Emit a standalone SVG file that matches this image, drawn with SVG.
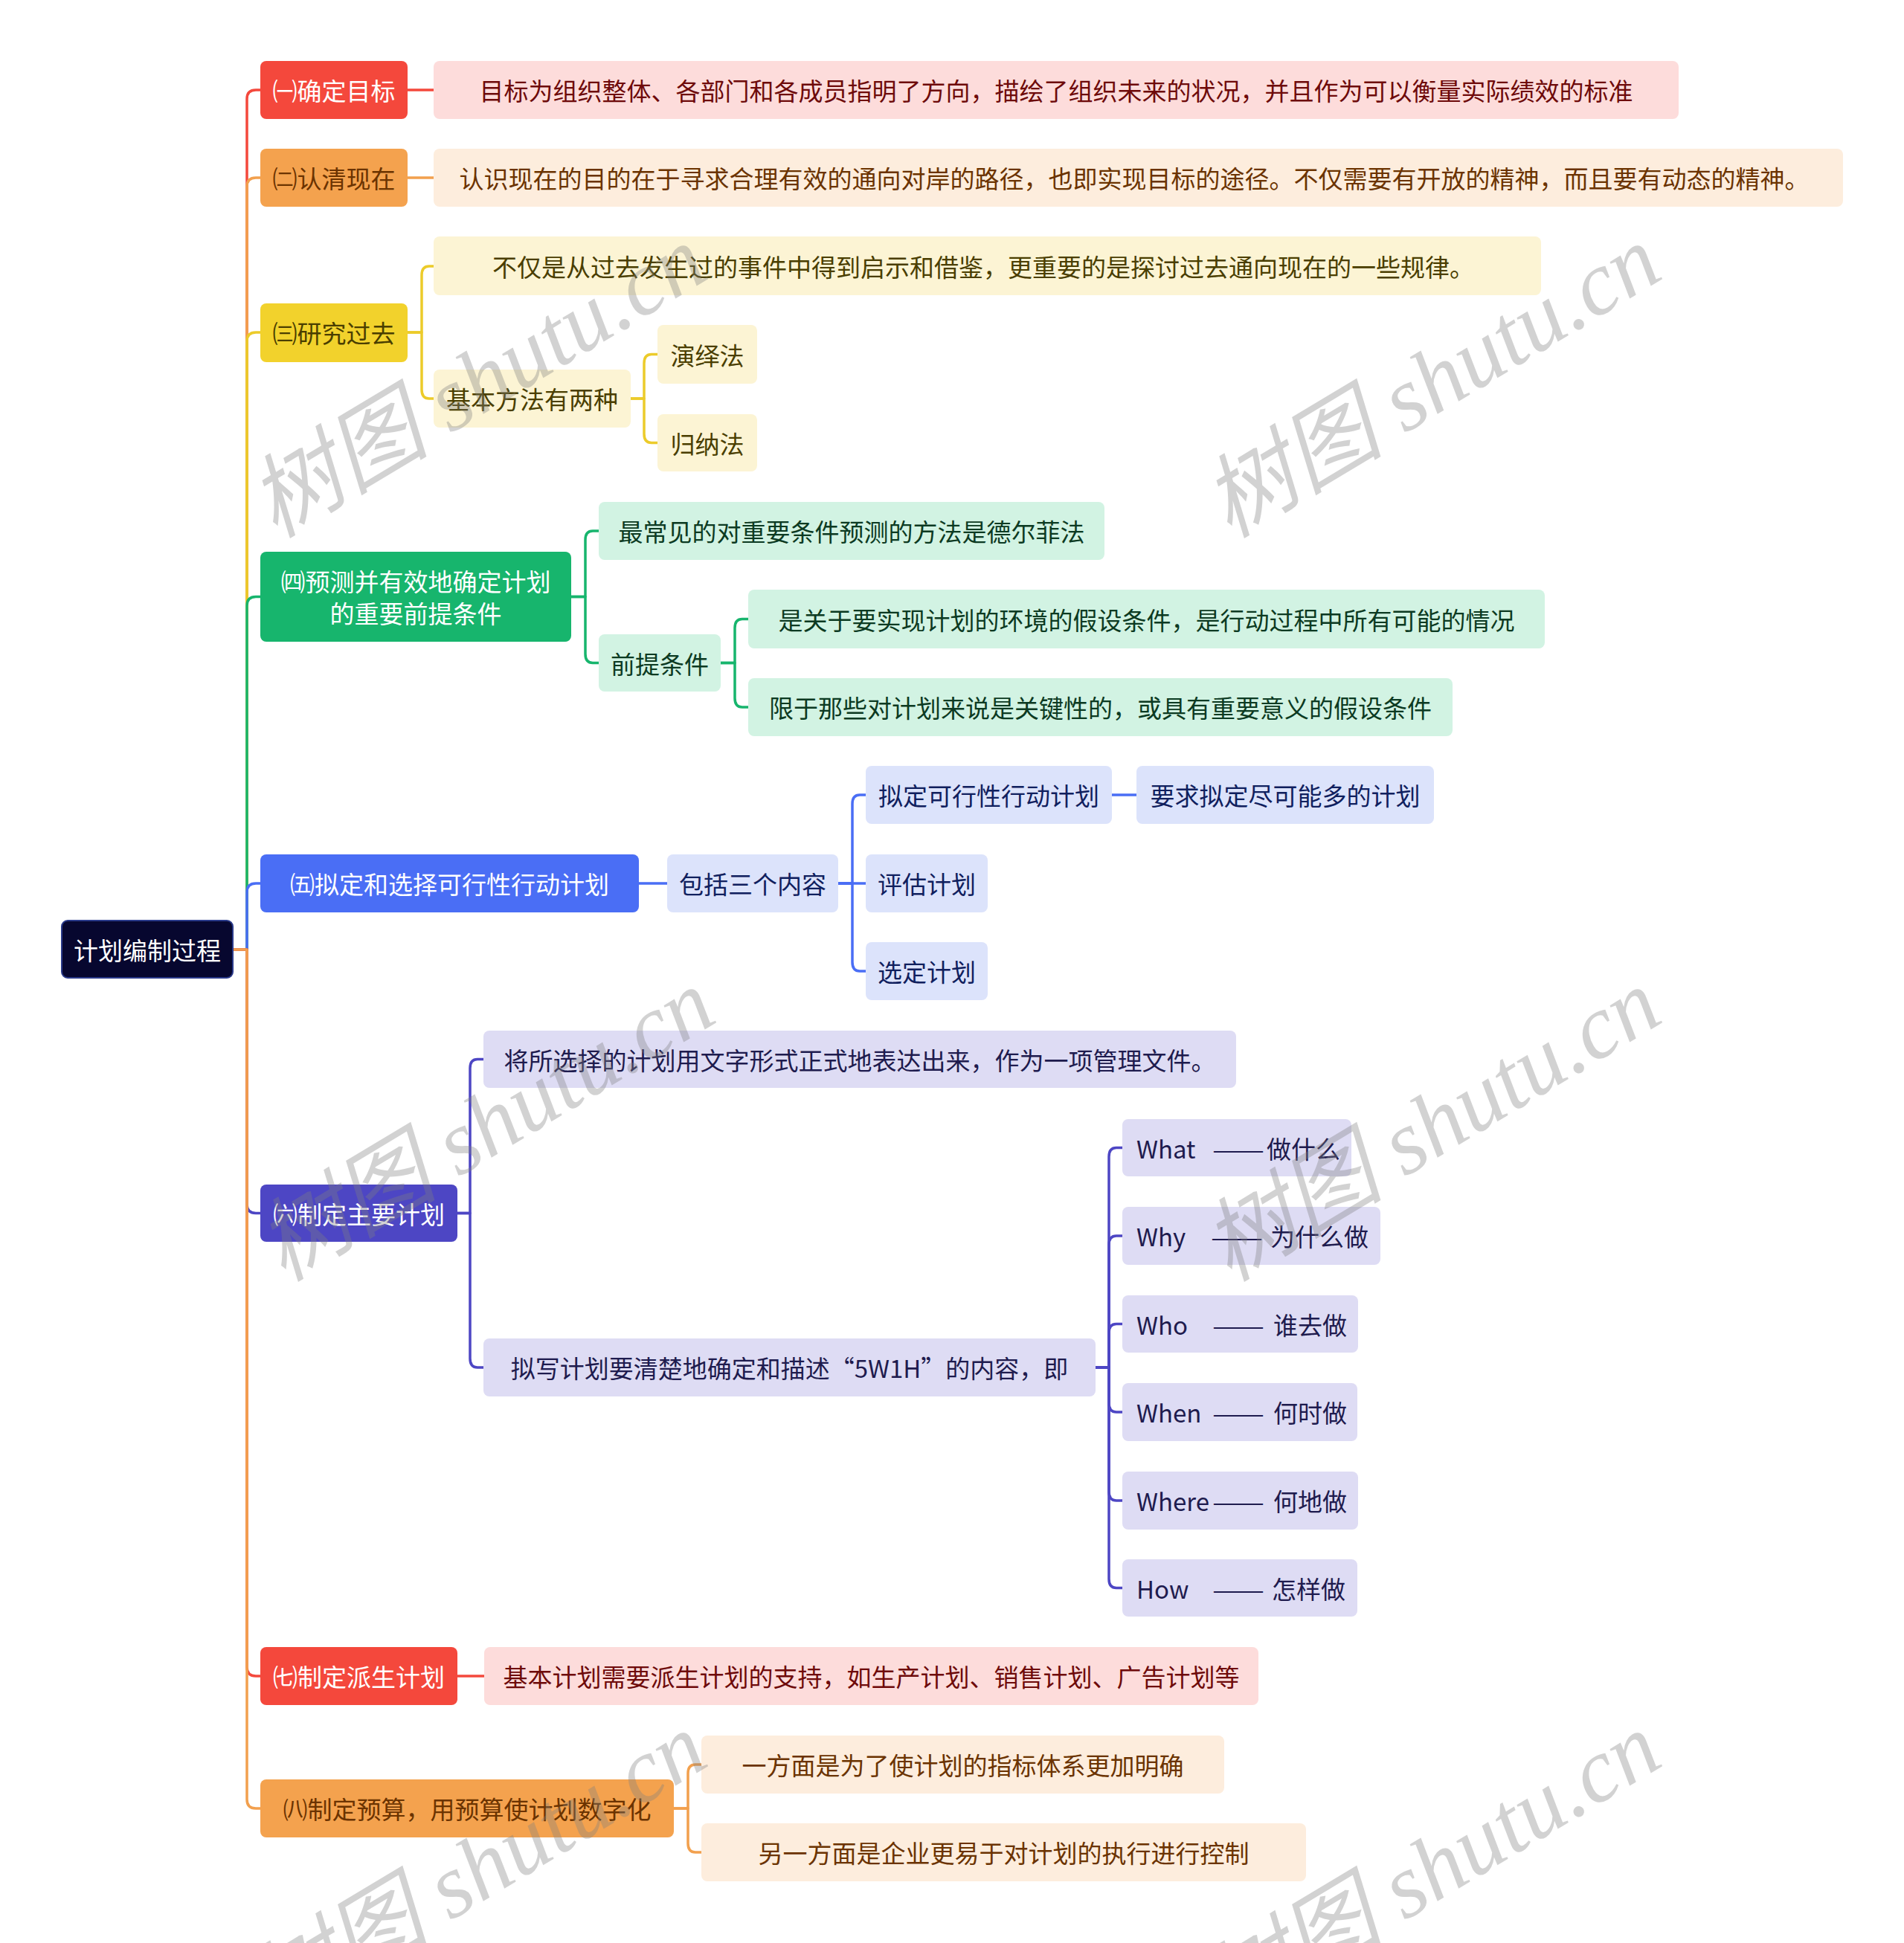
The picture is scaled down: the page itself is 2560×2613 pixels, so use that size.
<svg xmlns="http://www.w3.org/2000/svg" width="2560" height="2613" viewBox="0 0 2560 2613">
<style>
text{font-family:"Noto Sans CJK SC","Noto Sans",sans-serif;font-size:33px;dominant-baseline:central;text-anchor:middle}
.l{text-anchor:start}
.c{fill:none;stroke-width:3.5;stroke-linecap:round;stroke-linejoin:round}
.cr{stroke:#f4483c}.co{stroke:#f2a04e}.cy{stroke:#eccb2a}.cg{stroke:#17b56d}.cb{stroke:#4a6ef5}.cp{stroke:#4d46c4}
.root{fill:#07072f;stroke:#2a3a8a;stroke-width:2}
.R{fill:#f4483c}.O{fill:#f4a24e}.Y{fill:#f2d22c}.G{fill:#17b56d}.B{fill:#4a6ef5}.P{fill:#4d46c4}
.r{fill:#fddcdb}.o{fill:#fdeddd}.y{fill:#fcf4d4}.g{fill:#d2f3e3}.b{fill:#dce3fb}.p{fill:#dedcf4}
.tw{fill:#ffffff}.tR{fill:#6e0a0a}.tO{fill:#6b3300}.tY{fill:#4a3e00}.tG{fill:#0c3a22}.tB{fill:#10205e}.tP{fill:#1e1b4e}
.wm{font-family:"Liberation Serif","Noto Sans CJK SC",serif;font-style:italic;font-size:122px;fill:#808080;opacity:0.35;text-anchor:middle}
</style>

<g id="connectors">
<path class="c cr" d="M313 1277 H332 V133 Q332 121 344 121 H350"/>
<path class="c co" d="M313 1277 H332 V251 Q332 239 344 239 H350"/>
<path class="c cy" d="M313 1277 H332 V459 Q332 447 344 447 H350"/>
<path class="c cg" d="M313 1277 H332 V814.5 Q332 802.5 344 802.5 H350"/>
<path class="c cb" d="M313 1277 H332 V1200 Q332 1188 344 1188 H350"/>
<path class="c cp" d="M313 1277 H332 V1619.5 Q332 1631.5 344 1631.5 H350"/>
<path class="c cr" d="M313 1277 H332 V2242 Q332 2254 344 2254 H350"/>
<path class="c co" d="M313 1277 H332 V2420 Q332 2432 344 2432 H350"/>

<path class="c cr" d="M548 121 H583"/>
<path class="c co" d="M548 239 H583"/>

<path class="c cy" d="M548 447 H567 V370 Q567 358 577 358 H583"/>
<path class="c cy" d="M548 447 H567 V524 Q567 536 577 536 H583"/>
<path class="c cy" d="M848 536 H866 V488.5 Q866 476.5 876 476.5 H884"/>
<path class="c cy" d="M848 536 H866 V583.5 Q866 595.5 876 595.5 H884"/>

<path class="c cg" d="M768 802.5 H787 V726 Q787 714 797 714 H805"/>
<path class="c cg" d="M768 802.5 H787 V879.5 Q787 891.5 797 891.5 H805"/>
<path class="c cg" d="M969 891.5 H988 V844.5 Q988 832.5 998 832.5 H1006"/>
<path class="c cg" d="M969 891.5 H988 V939 Q988 951 998 951 H1006"/>

<path class="c cb" d="M859 1188 H897"/>
<path class="c cb" d="M1127 1188 H1146 V1081 Q1146 1069 1156 1069 H1164"/>
<path class="c cb" d="M1127 1188 H1164"/>
<path class="c cb" d="M1127 1188 H1146 V1294 Q1146 1306 1156 1306 H1164"/>
<path class="c cb" d="M1495 1069 H1528"/>

<path class="c cp" d="M615 1631.5 H632 V1436.5 Q632 1424.5 642 1424.5 H650"/>
<path class="c cp" d="M615 1631.5 H632 V1827 Q632 1839 642 1839 H650"/>
<path class="c cp" d="M1473 1839 H1491 V1555.5 Q1491 1543.5 1501 1543.5 H1509"/>
<path class="c cp" d="M1473 1839 H1491 V1674 Q1491 1662 1501 1662 H1509"/>
<path class="c cp" d="M1473 1839 H1491 V1792.5 Q1491 1780.5 1501 1780.5 H1509"/>
<path class="c cp" d="M1473 1839 H1491 V1887 Q1491 1899 1501 1899 H1509"/>
<path class="c cp" d="M1473 1839 H1491 V2006 Q1491 2018 1501 2018 H1509"/>
<path class="c cp" d="M1473 1839 H1491 V2123.5 Q1491 2135.5 1501 2135.5 H1509"/>

<path class="c cr" d="M615 2254 H651"/>
<path class="c co" d="M906 2432 H925 V2385 Q925 2373 935 2373 H943"/>
<path class="c co" d="M906 2432 H925 V2479 Q925 2491 935 2491 H943"/>
</g>

<g id="root"><rect class="root" x="83" y="1238" width="230" height="77" rx="8"/><text class="tw" x="198" y="1277">计划编制过程</text></g>

<g id="n1"><rect class="R" x="350" y="82" width="198" height="78" rx="8"/><text class="tw" x="449" y="121">㈠确定目标</text></g>
<g id="n1-1"><rect class="r" x="583" y="82" width="1674" height="78" rx="8"/><text class="tR" x="1420" y="121">目标为组织整体、各部门和各成员指明了方向，描绘了组织未来的状况，并且作为可以衡量实际绩效的标准</text></g>

<g id="n2"><rect class="O" x="350" y="200" width="198" height="78" rx="8"/><text class="tO" x="449" y="239">㈡认清现在</text></g>
<g id="n2-1"><rect class="o" x="583" y="200" width="1895" height="78" rx="8"/><text class="tO" x="1525" y="239">认识现在的目的在于寻求合理有效的通向对岸的路径，也即实现目标的途径。不仅需要有开放的精神，而且要有动态的精神。</text></g>

<g id="n3"><rect class="Y" x="350" y="408" width="198" height="79" rx="8"/><text class="tY" x="449" y="447">㈢研究过去</text></g>
<g id="n3-1"><rect class="y" x="583" y="318" width="1489" height="79" rx="8"/><text class="tY" x="1322" y="357.5">不仅是从过去发生过的事件中得到启示和借鉴，更重要的是探讨过去通向现在的一些规律。</text></g>
<g id="n3-2"><rect class="y" x="583" y="497" width="265" height="78" rx="8"/><text class="tY" x="715.5" y="536">基本方法有两种</text></g>
<g id="n3-2-1"><rect class="y" x="884" y="437" width="134" height="79" rx="8"/><text class="tY" x="951" y="476.5">演绎法</text></g>
<g id="n3-2-2"><rect class="y" x="884" y="557" width="134" height="77" rx="8"/><text class="tY" x="951" y="595.5">归纳法</text></g>

<g id="n4"><rect class="G" x="350" y="742" width="418" height="121" rx="8"/><text class="tw" x="559" y="781">㈣预测并有效地确定计划</text><text class="tw" x="559" y="824">的重要前提条件</text></g>
<g id="n4-1"><rect class="g" x="805" y="675" width="680" height="78" rx="8"/><text class="tG" x="1145" y="714">最常见的对重要条件预测的方法是德尔菲法</text></g>
<g id="n4-2"><rect class="g" x="805" y="853" width="164" height="77" rx="8"/><text class="tG" x="887" y="891.5">前提条件</text></g>
<g id="n4-2-1"><rect class="g" x="1006" y="793" width="1071" height="79" rx="8"/><text class="tG" x="1541.5" y="832.5">是关于要实现计划的环境的假设条件，是行动过程中所有可能的情况</text></g>
<g id="n4-2-2"><rect class="g" x="1006" y="912" width="947" height="78" rx="8"/><text class="tG" x="1479.5" y="951">限于那些对计划来说是关键性的，或具有重要意义的假设条件</text></g>

<g id="n5"><rect class="B" x="350" y="1149" width="509" height="78" rx="8"/><text class="tw" x="604.5" y="1188">㈤拟定和选择可行性行动计划</text></g>
<g id="n5-1"><rect class="b" x="897" y="1149" width="230" height="78" rx="8"/><text class="tB" x="1012" y="1188">包括三个内容</text></g>
<g id="n5-1-1"><rect class="b" x="1164" y="1030" width="331" height="78" rx="8"/><text class="tB" x="1329.5" y="1069">拟定可行性行动计划</text></g>
<g id="n5-1-1-1"><rect class="b" x="1528" y="1030" width="400" height="78" rx="8"/><text class="tB" x="1728" y="1069">要求拟定尽可能多的计划</text></g>
<g id="n5-1-2"><rect class="b" x="1164" y="1149" width="164" height="78" rx="8"/><text class="tB" x="1246" y="1188">评估计划</text></g>
<g id="n5-1-3"><rect class="b" x="1164" y="1267" width="164" height="78" rx="8"/><text class="tB" x="1246" y="1306">选定计划</text></g>

<g id="n6"><rect class="P" x="350" y="1593" width="265" height="77" rx="8"/><text class="tw" x="482.5" y="1631.5">㈥制定主要计划</text></g>
<g id="n6-1"><rect class="p" x="650" y="1386" width="1012" height="77" rx="8"/><text class="tP" x="1156" y="1424.5">将所选择的计划用文字形式正式地表达出来，作为一项管理文件。</text></g>
<g id="n6-2"><rect class="p" x="650" y="1800" width="823" height="78" rx="8"/><text class="tP" x="1061.5" y="1839">拟写计划要清楚地确定和描述“5W1H”的内容，即</text></g>
<g id="n6-2-1"><rect class="p" x="1509" y="1505" width="308" height="77" rx="8"/><text class="tP l" x="1528" y="1543.5">What<tspan x="1630" textLength="70" lengthAdjust="spacingAndGlyphs">——</tspan><tspan x="1703">做什么</tspan></text></g>
<g id="n6-2-2"><rect class="p" x="1509" y="1623" width="347" height="78" rx="8"/><text class="tP l" x="1528" y="1662">Why<tspan x="1628" textLength="70" lengthAdjust="spacingAndGlyphs">——</tspan><tspan x="1708">为什么做</tspan></text></g>
<g id="n6-2-3"><rect class="p" x="1509" y="1742" width="317" height="77" rx="8"/><text class="tP l" x="1528" y="1780.5">Who<tspan x="1630" textLength="70" lengthAdjust="spacingAndGlyphs">——</tspan><tspan x="1712">谁去做</tspan></text></g>
<g id="n6-2-4"><rect class="p" x="1509" y="1860" width="316" height="78" rx="8"/><text class="tP l" x="1528" y="1899">When<tspan x="1630" textLength="70" lengthAdjust="spacingAndGlyphs">——</tspan><tspan x="1712">何时做</tspan></text></g>
<g id="n6-2-5"><rect class="p" x="1509" y="1979" width="317" height="78" rx="8"/><text class="tP l" x="1528" y="2018">Where<tspan x="1630" textLength="70" lengthAdjust="spacingAndGlyphs">——</tspan><tspan x="1712">何地做</tspan></text></g>
<g id="n6-2-6"><rect class="p" x="1509" y="2097" width="316" height="77" rx="8"/><text class="tP l" x="1528" y="2135.5">How<tspan x="1630" textLength="70" lengthAdjust="spacingAndGlyphs">——</tspan><tspan x="1710">怎样做</tspan></text></g>

<g id="n7"><rect class="R" x="350" y="2215" width="265" height="78" rx="8"/><text class="tw" x="482.5" y="2254">㈦制定派生计划</text></g>
<g id="n7-1"><rect class="r" x="651" y="2215" width="1041" height="78" rx="8"/><text class="tR" x="1171.5" y="2254">基本计划需要派生计划的支持，如生产计划、销售计划、广告计划等</text></g>

<g id="n8"><rect class="O" x="350" y="2393" width="556" height="78" rx="8"/><text class="tO" x="628" y="2432">㈧制定预算，用预算使计划数字化</text></g>
<g id="n8-1"><rect class="o" x="943" y="2334" width="703" height="78" rx="8"/><text class="tO" x="1294.5" y="2373">一方面是为了使计划的指标体系更加明确</text></g>
<g id="n8-2"><rect class="o" x="943" y="2452" width="813" height="78" rx="8"/><text class="tO" x="1349.5" y="2491">另一方面是企业更易于对计划的执行进行控制</text></g>

<g id="watermark">
<text class="wm" transform="translate(642 513) rotate(-31)">树图 shutu.cn</text>
<text class="wm" transform="translate(1925 513) rotate(-31)">树图 shutu.cn</text>
<text class="wm" transform="translate(653 1513) rotate(-31)">树图 shutu.cn</text>
<text class="wm" transform="translate(1925 1513) rotate(-31)">树图 shutu.cn</text>
<text class="wm" transform="translate(642 2513) rotate(-31)">树图 shutu.cn</text>
<text class="wm" transform="translate(1925 2513) rotate(-31)">树图 shutu.cn</text>
</g>
</svg>
